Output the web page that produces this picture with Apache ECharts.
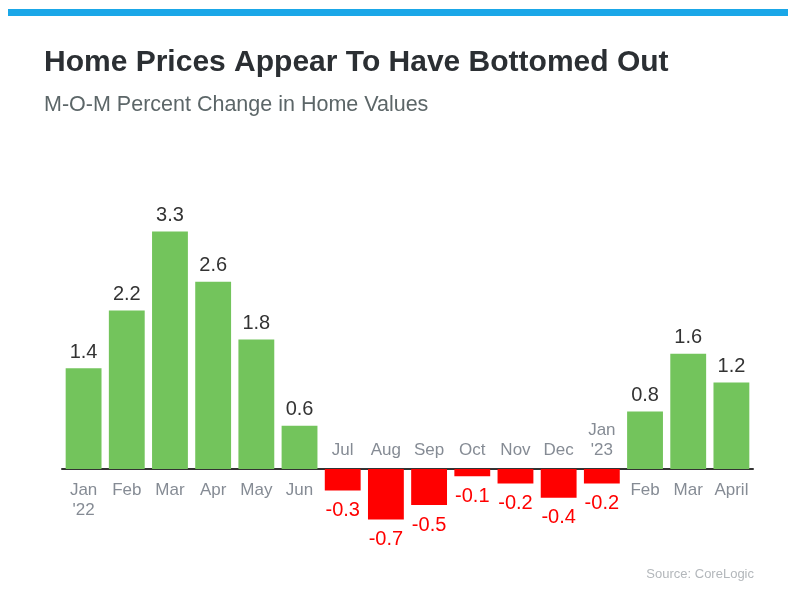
<!DOCTYPE html>
<html><head><meta charset="utf-8">
<script src="https://cdn.jsdelivr.net/npm/echarts@6/dist/echarts.min.js"></script>
<style>html,body{margin:0;padding:0;background:#fff}#c{width:796px;height:591px}</style>
</head><body><div id="c"></div>
<script>
const categories = ["Jan\n'22","Feb","Mar","Apr","May","Jun","Jul","Aug","Sep","Oct","Nov","Dec","Jan\n'23","Feb","Mar","April"];
const values = [1.4,2.2,3.3,2.6,1.8,0.6,-0.3,-0.7,-0.5,-0.1,-0.2,-0.4,-0.2,0.8,1.6,1.2];
const titleText = "Home Prices Appear To Have Bottomed Out";
const subtitleText = "M-O-M Percent Change in Home Values";
const sourceText = "Source: CoreLogic";

const GREEN = '#73c45c', RED = '#ff0000';
const FONT = 'Liberation Sans, Arial, Helvetica, sans-serif';

const barData = values.map(v => ({
  value: v,
  itemStyle: {color: v >= 0 ? GREEN : RED},
  label: {
    show: true,
    position: v >= 0 ? 'top' : 'bottom',
    distance: v >= 0 ? 6 : 10,
    color: v >= 0 ? '#333333' : RED,
    fontSize: 20,
    fontFamily: FONT,
    formatter: () => String(v)
  }
}));

const monthData = values.map((v, i) => ({
  value: 0,
  label: {
    show: true,
    position: v >= 0 ? 'bottom' : 'top',
    distance: v >= 0 ? 11 : 8,
    color: '#666e79',
    fontSize: 17,
    lineHeight: 20,
    fontFamily: FONT,
    formatter: () => categories[i]
  }
}));

const chart = echarts.init(document.getElementById('c'), null, {renderer: 'canvas'});
chart.setOption({
  animation: false,
  backgroundColor: '#ffffff',
  graphic: [
    {type: 'rect', shape: {x: 8, y: 9, width: 780, height: 7}, style: {fill: '#1aa7e8'}},
    {type: 'text', left: 44, top: 48, style: {text: titleText, font: 'bold 30px ' + FONT, fill: '#2b2f33'}},
    {type: 'text', left: 44, top: 94, style: {text: subtitleText, font: '21.5px ' + FONT, fill: '#5c6668'}},
    {type: 'text', right: 42, top: 568, style: {text: sourceText, font: '13px ' + FONT, fill: '#b3b7bb'}}
  ],
  grid: {left: 62, right: 43, top: 217, bottom: 50},
  xAxis: {
    type: 'category',
    data: categories,
    axisLine: {onZero: true, lineStyle: {color: '#333333', width: 2}},
    axisTick: {show: false},
    axisLabel: {show: false}
  },
  yAxis: {
    type: 'value', min: -1, max: 3.5, show: false,
    splitLine: {show: false}
  },
  series: [
    {type: 'bar', data: barData, barWidth: '83%', z: 2},
    {type: 'scatter', data: monthData, symbol: 'circle', symbolSize: 1,
     itemStyle: {color: 'rgba(0,0,0,0)'}, z: 3, silent: true}
  ]
});
</script></body></html>
